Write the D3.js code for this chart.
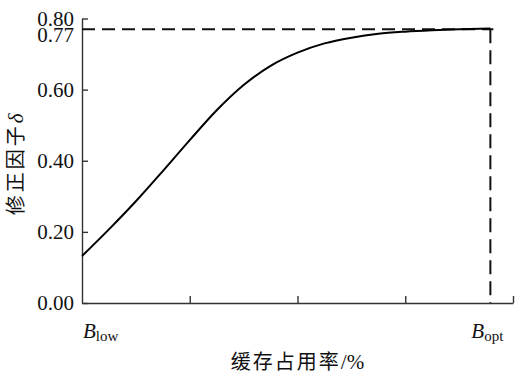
<!DOCTYPE html>
<html lang="zh">
  <head>
    <meta charset="UTF-8" />
    <title>修正因子与缓存占用率</title>
    <style>
      body {
        margin: 0;
        background: #fff;
      }
      .axis path,
      .axis line {
        stroke: #333;
        stroke-width: 1.4px;
      }
      .axis text {
        font-family: "Liberation Serif", "DejaVu Serif", serif;
        font-size: 21px;
        fill: #111;
      }
      .num {
        font-family: "Liberation Serif", "DejaVu Serif", serif;
        font-size: 21px;
        fill: #111;
      }
      .cjk {
        font-family: "Noto Sans CJK SC", sans-serif;
        font-size: 20px;
        fill: #111;
      }
    </style>
  </head>
  <body>
    <svg width="520" height="378"></svg>

    <script src="https://d3js.org/d3.v7.min.js"></script>
    <script>
      // curve (x in axis units, 0 = B_low)
      const xs = [0, 0.25, 0.5, 0.75, 1.0, 1.25, 1.5, 1.75, 2.0, 2.25, 2.5, 2.75, 3.0, 3.25, 3.5, 3.79];
      const delta = [0.132, 0.207, 0.286, 0.371, 0.458, 0.542, 0.613, 0.667, 0.704, 0.73, 0.746, 0.757, 0.763, 0.767, 0.77, 0.772];
      const yTicks = [0, 0.2, 0.4, 0.6, 0.8];
      const xTicks = [1, 2, 3, 4];
      const deltaOpt = 0.77;
      const bOpt = 3.79;

      const margin = { top: 18.5, right: 7, bottom: 75, left: 82 };
      const width = 520,
        height = 378;

      const svg = d3.select("svg");

      const x = d3
        .scaleLinear()
        .domain([0, 4])
        .range([margin.left, width - margin.right]);
      const y = d3
        .scaleLinear()
        .domain([0, 0.8])
        .range([height - margin.bottom, margin.top]);

      // axes, ticks pointing inward
      svg
        .append("g")
        .attr("class", "axis")
        .attr("transform", `translate(0,${y(0)})`)
        .call(d3.axisBottom(x).tickValues(xTicks).tickSize(-7).tickSizeOuter(0).tickFormat(""));

      svg
        .append("g")
        .attr("class", "axis")
        .attr("transform", `translate(${x(0)},0)`)
        .call(
          d3
            .axisLeft(y)
            .tickValues(yTicks)
            .tickSize(-6)
            .tickSizeOuter(0)
            .tickPadding(8)
            .tickFormat(d3.format(".2f"))
        );

      // extra label for 0.77
      svg
        .append("text")
        .attr("class", "num")
        .attr("x", x(0) - 8)
        .attr("y", y(deltaOpt) + 6)
        .attr("dy", "0.32em")
        .attr("text-anchor", "end")
        .text(d3.format(".2f")(deltaOpt));

      // dashed guide lines
      svg
        .append("path")
        .attr("d", `M${x(0)},${y(deltaOpt)}H${x(bOpt) + 3}`)
        .attr("stroke", "#111")
        .attr("stroke-width", 2)
        .attr("stroke-dasharray", "13,7")
        .attr("fill", "none");

      svg
        .append("path")
        .attr("d", `M${x(bOpt)},${y(deltaOpt)}V${y(0)}`)
        .attr("stroke", "#111")
        .attr("stroke-width", 2)
        .attr("stroke-dasharray", "14,7")
        .attr("fill", "none");

      // curve
      const line = d3
        .line()
        .x((d, i) => x(xs[i]))
        .y((d) => y(d))
        .curve(d3.curveMonotoneX);

      svg
        .append("path")
        .datum(delta)
        .attr("d", line)
        .attr("fill", "none")
        .attr("stroke", "#000")
        .attr("stroke-width", 2);

      // B_low / B_opt labels
      const bLabels = [
        { pos: 0, sub: "low", dx: 1 },
        { pos: bOpt, sub: "opt", dx: -19 },
      ];
      bLabels.forEach((b) => {
        const t = svg
          .append("text")
          .attr("class", "num")
          .attr("x", x(b.pos) + b.dx)
          .attr("y", 338);
        t.append("tspan").attr("font-style", "italic").text("B");
        t.append("tspan").attr("font-size", "15px").attr("dy", 3).text(b.sub);
      });

      // axis titles
      const xt = svg
        .append("text")
        .attr("x", (x(0) + x(4)) / 2)
        .attr("y", 369)
        .attr("text-anchor", "middle")
        .attr("letter-spacing", "2px");
      xt.append("tspan").attr("class", "cjk").attr("font-size", "21px").text("缓存占用率");
      xt.append("tspan").attr("class", "num").attr("letter-spacing", "0px").text("/%");

      const yt = svg
        .append("text")
        .attr("transform", `translate(23,${(y(0) + y(0.8)) / 2 + 2}) rotate(-90)`)
        .attr("text-anchor", "middle")
        .attr("letter-spacing", "3px");
      yt.append("tspan").attr("class", "cjk").text("修正因子");
      yt.append("tspan").attr("class", "num").attr("font-style", "italic").text("δ");
    </script>
  </body>
</html>
